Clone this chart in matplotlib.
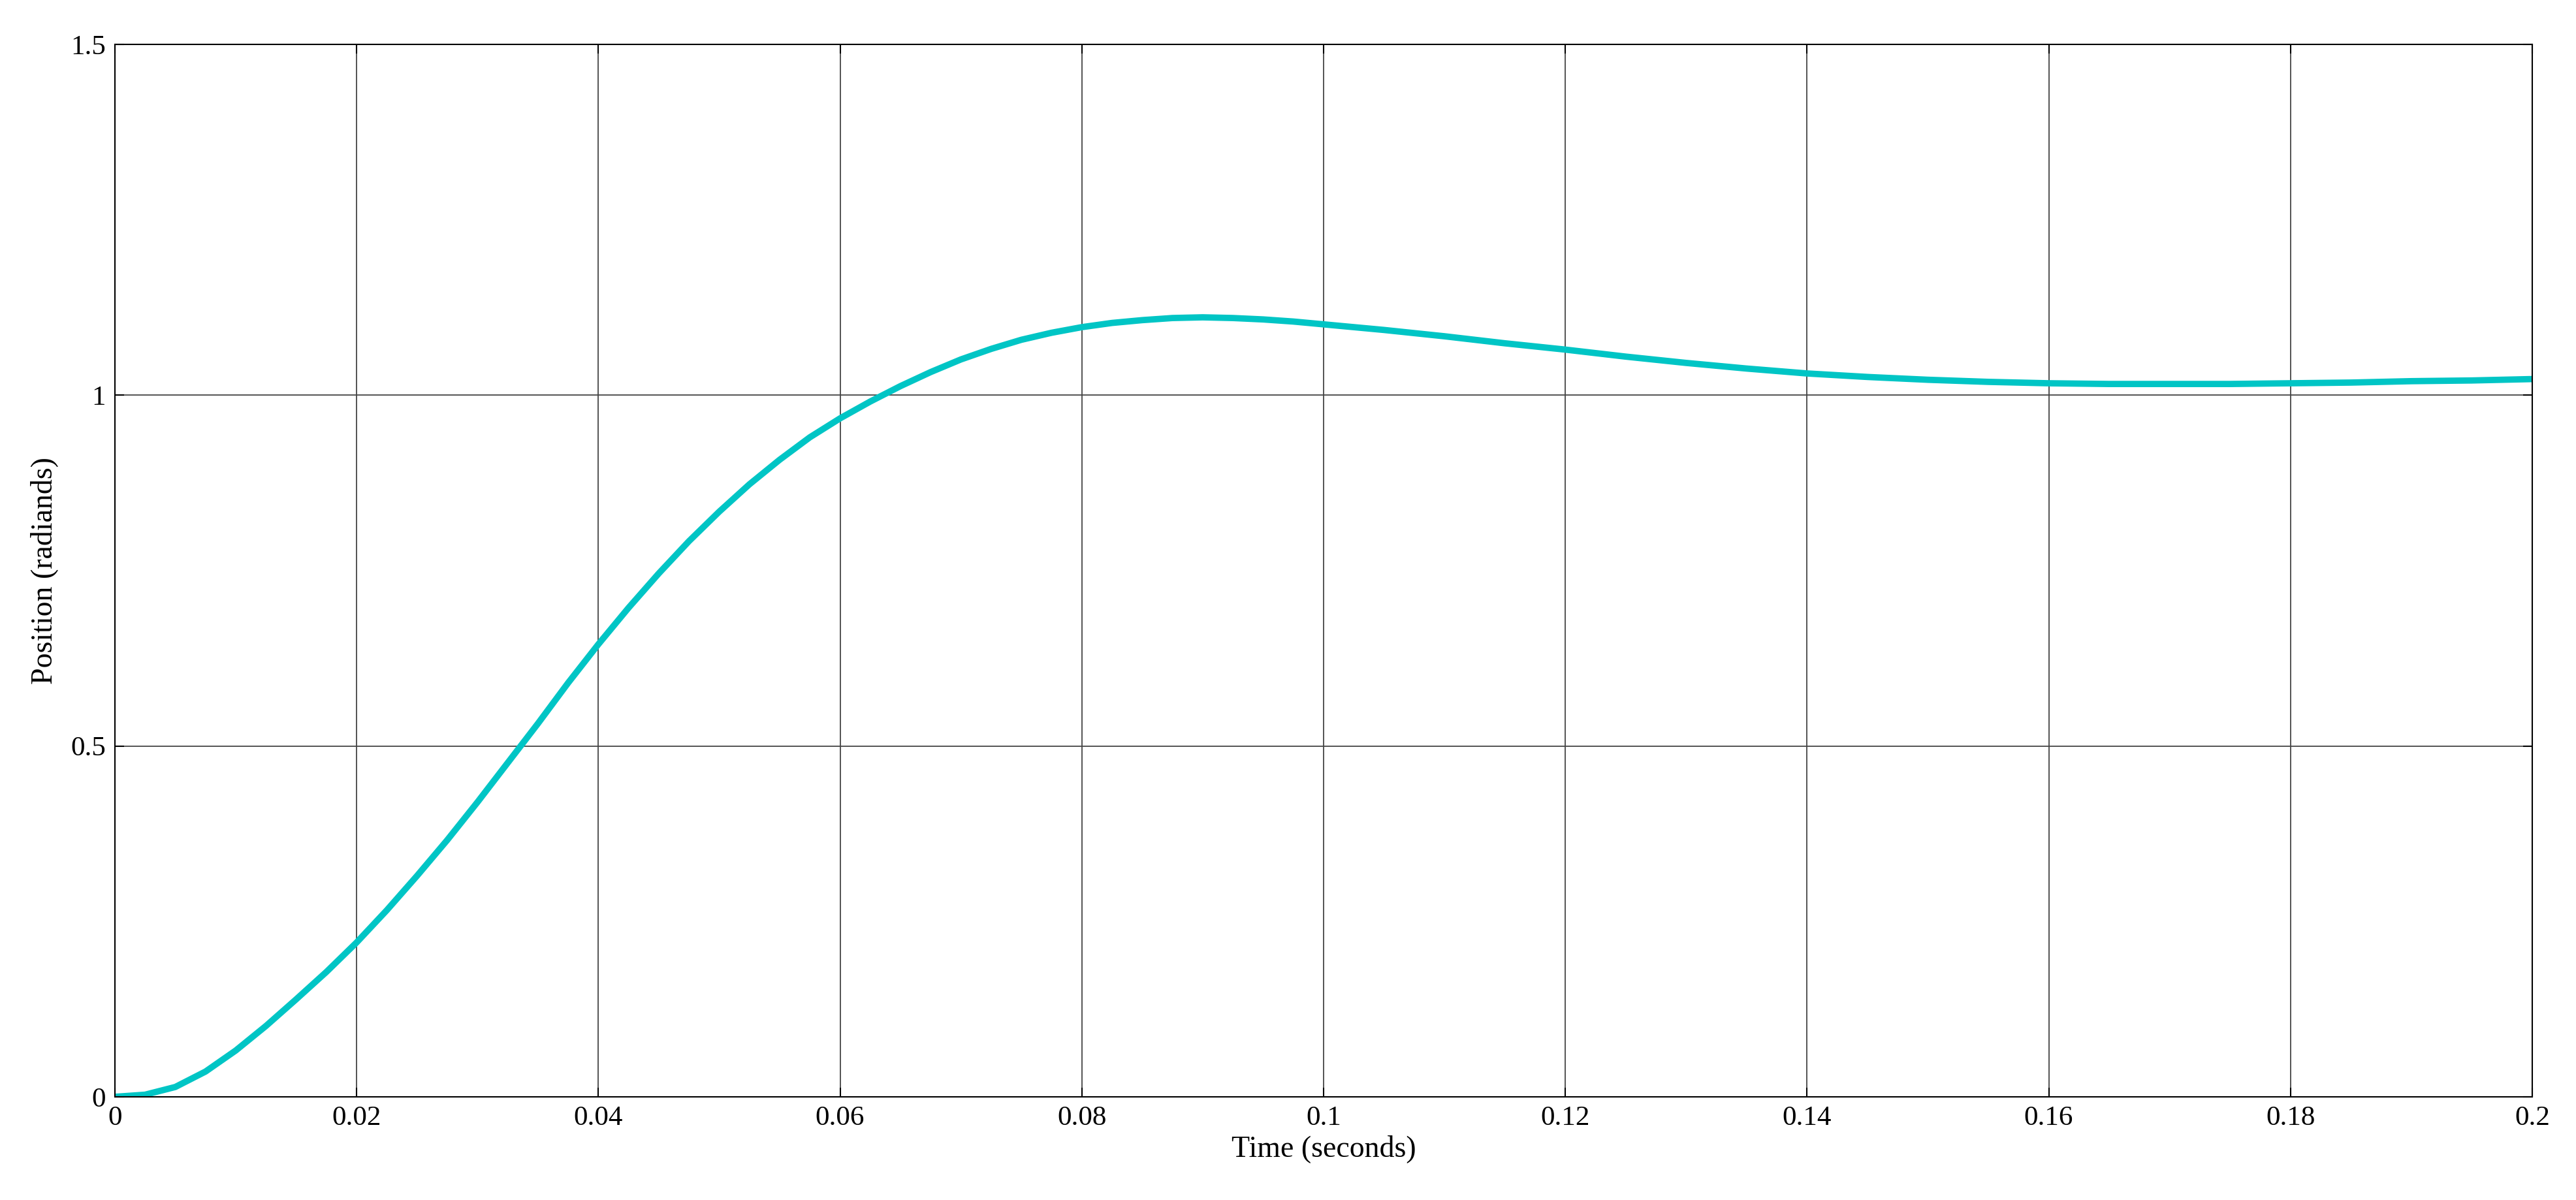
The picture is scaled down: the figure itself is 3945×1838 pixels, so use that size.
import matplotlib
matplotlib.use("Agg")
import matplotlib.pyplot as plt

t = [0, 0.0025, 0.005, 0.0075, 0.01, 0.0125, 0.015, 0.0175, 0.02, 0.0225, 0.025, 0.0275,
     0.03, 0.0325, 0.035, 0.0375, 0.04, 0.0425, 0.045, 0.0475, 0.05, 0.0525, 0.055, 0.0575,
     0.06, 0.0625, 0.065, 0.0675, 0.07, 0.0725, 0.075, 0.0775, 0.08, 0.0825, 0.085, 0.0875,
     0.09, 0.0925, 0.095, 0.0975, 0.1, 0.105, 0.11, 0.115, 0.12, 0.125,
     0.13, 0.135, 0.14, 0.145, 0.15, 0.155, 0.16, 0.165, 0.17, 0.175, 0.18, 0.185, 0.19, 0.195, 0.2]
pos = [0, 0.003, 0.014, 0.036, 0.066, 0.101, 0.139, 0.178, 0.22, 0.266, 0.315, 0.366,
       0.42, 0.476, 0.532, 0.59, 0.645, 0.697, 0.746, 0.792, 0.834, 0.873, 0.908, 0.94,
       0.967, 0.991, 1.013, 1.033, 1.051, 1.066, 1.079, 1.089, 1.097, 1.103, 1.107, 1.11,
       1.111, 1.11, 1.108, 1.105, 1.101, 1.093, 1.084, 1.074, 1.065, 1.055,
       1.046, 1.038, 1.031, 1.026, 1.022, 1.019, 1.017, 1.016, 1.016, 1.016, 1.017, 1.018, 1.02, 1.021, 1.023]
xticks = [0, 0.02, 0.04, 0.06, 0.08, 0.1, 0.12, 0.14, 0.16, 0.18, 0.2]
xticklabels = ["0", "0.02", "0.04", "0.06", "0.08", "0.1", "0.12", "0.14", "0.16", "0.18", "0.2"]
yticks = [0, 0.5, 1, 1.5]
yticklabels = ["0", "0.5", "1", "1.5"]

plt.rcParams['font.family'] = ['Liberation Serif', 'DejaVu Serif']
fig = plt.figure(figsize=(39.45, 18.38), dpi=100)
ax = fig.add_axes([0.0446, 0.086, 0.9384, 0.877])
ax.plot(t, pos, color='#00C5C5', lw=7, solid_capstyle='round', solid_joinstyle='round')
ax.set_xlim(0, 0.2)
ax.set_ylim(0, 1.5)
ax.set_xticks(xticks, xticklabels)
ax.set_yticks(yticks, yticklabels)
ax.tick_params(labelsize=31, direction='in', length=10, width=1.5, top=True, right=True, pad=10)
ax.grid(True, color='#444444', lw=1.3)
for s in ax.spines.values():
    s.set_linewidth(1.5)
ax.set_xlabel("Time (seconds)", fontsize=33, labelpad=4)
ax.set_ylabel("Position (radiands)", fontsize=33, labelpad=14)
fig.savefig("out.png", dpi=100, facecolor='white')
